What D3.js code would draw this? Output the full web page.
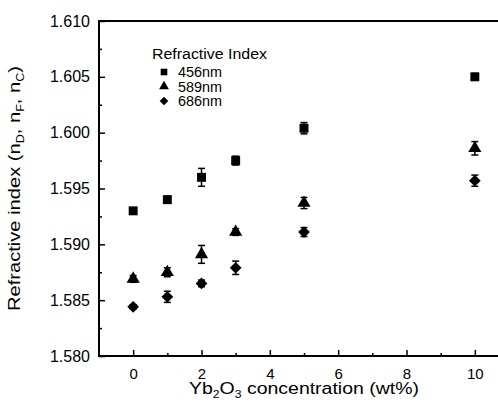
<!DOCTYPE html>
<html>
<head>
<meta charset="utf-8">
<style>
  body { margin: 0; background: #fff; }
  text { font-family: "Liberation Sans", Arial, sans-serif; fill: #000; }
</style>
</head>
<body>
<svg width="498" height="406"></svg>
<script src="https://cdn.jsdelivr.net/npm/d3@7"></script>
<script>
// data
var conc = [0, 1, 2, 3, 5, 10];
var n456 = [1.5930, 1.5940, 1.5960, 1.5975, 1.6004, 1.6050];
var n589 = [1.5869, 1.5875, 1.5891, 1.5911, 1.5937, 1.5986];
var n686 = [1.5844, 1.5853, 1.5865, 1.5879, 1.5911, 1.5957];
var err456 = [0.0002, 0.0003, 0.0008, 0.0004, 0.0005, 0.0003];
var err589 = [0.0003, 0.0004, 0.0008, 0.0003, 0.0005, 0.0006];
var err686 = [0.0002, 0.0005, 0.0003, 0.0006, 0.0004, 0.0005];
var xTicks = [0, 2, 4, 6, 8, 10];
var yTicks = [1.580, 1.585, 1.590, 1.595, 1.600, 1.605, 1.610];
var legendNames = ["456nm", "589nm", "686nm"];

var svg = d3.select("svg");
var pLeft = 99, pTop = 21, pBottom = 356, pRight = 509;

var x = d3.scaleLinear().domain([-1, 11]).range([pLeft, pRight]);
var y = d3.scaleLinear().domain([1.580, 1.610]).range([pBottom, pTop]);

// frame
svg.append("rect")
  .attr("x", pLeft).attr("y", pTop)
  .attr("width", pRight - pLeft).attr("height", pBottom - pTop)
  .attr("fill", "none").attr("stroke", "#000").attr("stroke-width", 2);

// axes (ticks inside)
var xAxis = d3.axisBottom(x).tickValues(xTicks).tickSize(-6).tickPadding(12)
  .tickFormat(d3.format("d"));
var gx = svg.append("g").attr("transform", "translate(0," + pBottom + ")").call(xAxis);
gx.select(".domain").remove();
gx.attr("font-size", 15).attr("font-family", null);

var gxm = svg.append("g").attr("transform", "translate(0," + pBottom + ")")
  .call(d3.axisBottom(x).tickValues([1, 3, 5, 7, 9]).tickSize(-3).tickFormat(""));
gxm.select(".domain").remove();

var yAxis = d3.axisLeft(y).tickValues(yTicks).tickSize(-6).tickPadding(9)
  .tickFormat(d3.format(".3f"));
var gy = svg.append("g").attr("transform", "translate(" + pLeft + ",0)").call(yAxis);
gy.select(".domain").remove();
gy.attr("font-size", 16).attr("font-family", null);

var gym = svg.append("g").attr("transform", "translate(" + pLeft + ",0)")
  .call(d3.axisLeft(y).tickValues(d3.range(1.5825, 1.610, 0.005)).tickSize(-3).tickFormat(""));
gym.select(".domain").remove();

svg.selectAll(".tick line").attr("stroke", "#000").attr("stroke-width", 1.5);

// axis titles
var xt = svg.append("text")
  .attr("x", x(5)).attr("y", 394)
  .attr("text-anchor", "middle").attr("font-size", 16)
  .attr("textLength", 230).attr("lengthAdjust", "spacingAndGlyphs");
xt.append("tspan").text("Yb");
xt.append("tspan").attr("font-size", 10).attr("dy", 4).text("2");
xt.append("tspan").attr("dy", -4).text("O");
xt.append("tspan").attr("font-size", 10).attr("dy", 4).text("3");
xt.append("tspan").attr("dy", -4).text(" concentration (wt%)");

var yt = svg.append("text")
  .attr("transform", "translate(20," + y(1.595) + ") rotate(-90)")
  .attr("text-anchor", "middle").attr("font-size", 16)
  .attr("textLength", 245).attr("lengthAdjust", "spacingAndGlyphs");
yt.append("tspan").text("Refractive index (n");
yt.append("tspan").attr("font-size", 10).attr("dy", 4).text("D");
yt.append("tspan").attr("dy", -4).text(", n");
yt.append("tspan").attr("font-size", 10).attr("dy", 4).text("F");
yt.append("tspan").attr("dy", -4).text(", n");
yt.append("tspan").attr("font-size", 10).attr("dy", 4).text("C");
yt.append("tspan").attr("dy", -4).text(")");

// series
var series = [
  { vals: n456, errs: err456, sym: d3.symbolSquare, size: 80 },
  { vals: n589, errs: err589, sym: d3.symbolTriangle, size: 75 },
  { vals: n686, errs: err686, sym: d3.symbolDiamond2, size: 88 }
];

series.forEach(function (s) {
  var pts = conc.map(function (c, i) { return { c: c, v: s.vals[i], e: s.errs[i] }; });
  var g = svg.append("g");
  var eb = g.selectAll(".eb").data(pts).enter().append("g");
  eb.append("line")
    .attr("x1", function (d) { return x(d.c); }).attr("x2", function (d) { return x(d.c); })
    .attr("y1", function (d) { return y(d.v - d.e); }).attr("y2", function (d) { return y(d.v + d.e); })
    .attr("stroke", "#000").attr("stroke-width", 1.5);
  [-1, 1].forEach(function (sgn) {
    eb.append("line")
      .attr("x1", function (d) { return x(d.c) - 3.5; }).attr("x2", function (d) { return x(d.c) + 3.5; })
      .attr("y1", function (d) { return y(d.v + sgn * d.e); }).attr("y2", function (d) { return y(d.v + sgn * d.e); })
      .attr("stroke", "#000").attr("stroke-width", 1.5);
  });
  g.selectAll("path").data(pts).enter().append("path")
    .attr("d", d3.symbol().type(s.sym).size(s.size))
    .attr("transform", function (d) { return "translate(" + x(d.c) + "," + y(d.v) + ")"; })
    .attr("fill", "#000");
});

// legend
var lg = svg.append("g");
lg.append("text").attr("x", 152).attr("y", 59).attr("font-size", 14)
  .attr("textLength", 115).attr("lengthAdjust", "spacingAndGlyphs")
  .text("Refractive Index");
legendNames.forEach(function (name, i) {
  var yy = 72 + i * 14.5;
  lg.append("path")
    .attr("d", d3.symbol().type(series[i].sym).size(series[i].size * 0.55))
    .attr("transform", "translate(164," + yy + ")").attr("fill", "#000");
  lg.append("text").attr("x", 178).attr("y", yy + 5).attr("font-size", 14)
    .attr("textLength", 44).attr("lengthAdjust", "spacingAndGlyphs").text(name);
});
</script>
</body>
</html>
